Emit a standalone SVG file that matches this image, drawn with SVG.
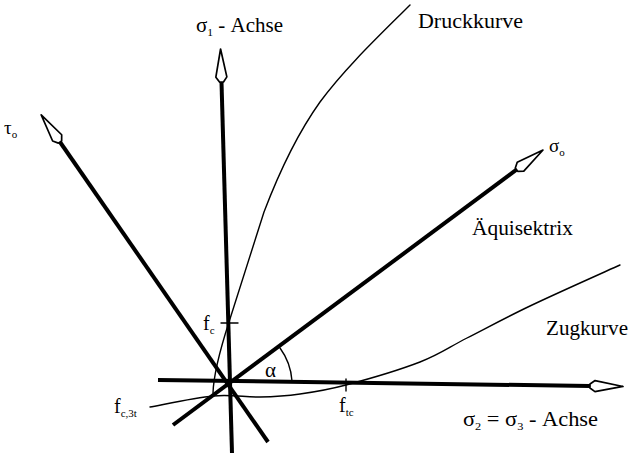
<svg xmlns="http://www.w3.org/2000/svg" width="632" height="453" viewBox="0 0 632 453">
<style>
text{font-family:"Liberation Serif","Times New Roman",serif;fill:#000}
.ax{stroke:#000;stroke-width:4;fill:none;stroke-linecap:butt;marker-end:url(#spear)}
.cv{stroke:#000;stroke-width:1.4;fill:none;stroke-linecap:round;stroke-linejoin:round}
.lbl{font-size:20px}
.sub{font-size:11px}
</style>
<defs>
<marker id="spear" markerUnits="userSpaceOnUse" markerWidth="40" markerHeight="16" refX="0" refY="0" viewBox="-2 -8 40 16" orient="auto" overflow="visible">
<path d="M0,-2 L5,-5.5 L33,0 L5,5.5 L0,2 Z" fill="#fff" stroke="#000" stroke-width="1.7" stroke-linejoin="round"/>
</marker>
</defs>
<g id="connectors">
<line class="ax" x1="232" y1="453" x2="221.5" y2="82"/>
<line class="ax" x1="268" y1="442" x2="60" y2="142"/>
<line class="ax" x1="173" y1="425" x2="516.5" y2="169.7"/>
<line class="ax" x1="158" y1="380" x2="590" y2="386"/>
<path class="cv" d="M213,393 C213.5,377 219,353 229,322 C239,290 250,255 264,212 C280,170 300,130 320,102 C345,68 380,35 410,5"/>
<path class="cv" d="M150,407 C160.5,405.2 194.7,397.7 213,396 C231.3,394.3 245.5,397.3 260,397 C274.5,396.7 285.7,396 300,394 C314.3,392 326,390.3 346,385 C366,379.7 399.8,369.8 420,362 C440.2,354.2 448.7,347.3 467,338 C485.3,328.7 504.5,318.2 530,306 C555.5,293.8 605,271.8 620,265"/>
<path class="cv" d="M292,381 A63,63 0 0 0 280,348"/>
<line class="cv" x1="221" y1="323" x2="238" y2="323"/>
<line class="cv" x1="346" y1="379" x2="346" y2="391"/>
</g>
<g id="sigma1-label"><text class="lbl" x="196" y="32" textLength="87" lengthAdjust="spacingAndGlyphs">σ<tspan class="sub" dy="4">1</tspan><tspan dy="-4"> - Achse</tspan></text></g>
<g id="tau-label"><text x="4" y="134" font-size="19">τ<tspan class="sub" dy="4" font-size="11">o</tspan></text></g>
<g id="sigmao-label"><text x="549" y="152" font-size="19">σ<tspan class="sub" dy="4" font-size="11">o</tspan></text></g>
<g id="druck-label"><text class="lbl" x="418" y="28" font-size="21" textLength="105" lengthAdjust="spacingAndGlyphs">Druckkurve</text></g>
<g id="aequi-label"><text class="lbl" x="472" y="235" font-size="21" textLength="101" lengthAdjust="spacingAndGlyphs">Äquisektrix</text></g>
<g id="zug-label"><text class="lbl" x="546" y="335" font-size="21" textLength="82" lengthAdjust="spacingAndGlyphs">Zugkurve</text></g>
<g id="sigma23-label"><text class="lbl" x="463" y="426" textLength="135" lengthAdjust="spacingAndGlyphs">σ<tspan class="sub" dy="4">2</tspan><tspan dy="-4"> = σ</tspan><tspan class="sub" dy="4">3</tspan><tspan dy="-4"> - Achse</tspan></text></g>
<g id="alpha-label"><text x="265" y="377" font-size="21">α</text></g>
<g id="fc-label"><text x="203" y="330" font-size="20">f<tspan class="sub" dy="4" font-size="10">c</tspan></text></g>
<g id="ftc-label"><text x="339" y="412" font-size="20">f<tspan class="sub" dy="4" font-size="10">tc</tspan></text></g>
<g id="fc3t-label"><text x="114" y="413" font-size="20">f<tspan class="sub" dy="4" font-size="10">c,3t</tspan></text></g>
</svg>
